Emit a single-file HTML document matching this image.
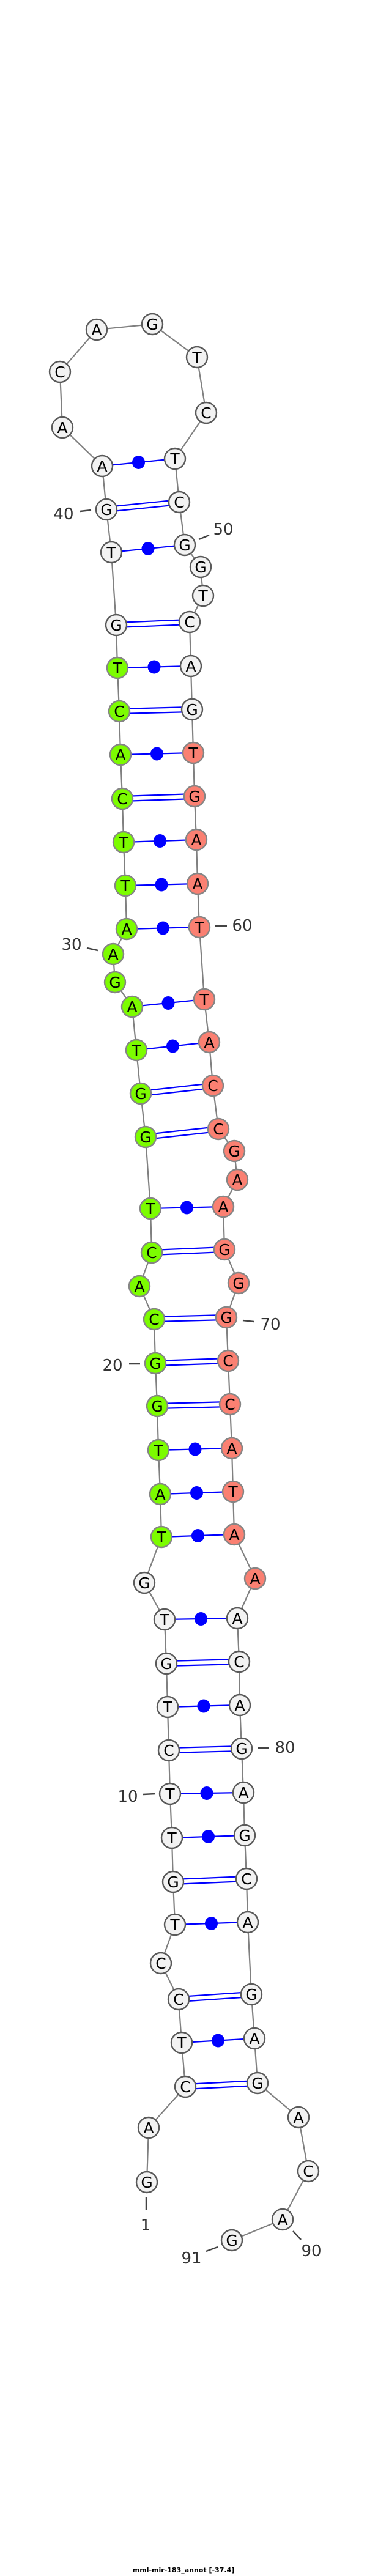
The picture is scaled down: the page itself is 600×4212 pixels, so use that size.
<!DOCTYPE html>
<html><head><meta charset="utf-8"><style>
html,body{margin:0;padding:0;background:#fff;}
svg{display:block;}
.bb{fill:none;stroke:#808080;stroke-width:2.2;}
.p{stroke:#0000ff;stroke-width:2.2;}
.dot{fill:#0000ff;}
circle.w{fill:#f2f2f2;stroke:#5a5a5a;stroke-width:2.4;}
circle.g{fill:#7cfc00;stroke:#858585;stroke-width:2.4;}
circle.r{fill:#fa8072;stroke:#858585;stroke-width:2.4;}
text.n{font-family:"DejaVu Sans","Liberation Sans",sans-serif;font-size:25px;text-anchor:middle;fill:#000;}
text.l{font-family:"DejaVu Sans","Liberation Sans",sans-serif;font-size:26px;text-anchor:middle;fill:#333;}
.t{stroke:#444;stroke-width:2.5;}
</style></head><body>
<svg width="600" height="4212" viewBox="0 0 600 4212" xmlns="http://www.w3.org/2000/svg">
<polyline class="bb" points="240,3568 243,3479 303,3412 297,3340 292,3269 263,3210 286,3147 283,3077 281,3005 278,2933 276,2862 274,2791 272,2720 269,2648 236,2588 264,2513 262,2443 259,2371 257,2299 254,2229 252,2157 228,2103 248,2048 246,1976 238,1859 230,1788 223,1717 216,1646 188,1606 185,1560 207,1519 205,1448 202,1377 200,1306 197,1234 195,1163 192,1092 190,1022 182,903 174,833 167,762 102,699 98,608 158,539 249,530 322,584 337,675 286,750 293,821 302,891 328,927 332,974 310,1017 312,1089 314,1160 316,1231 318,1302 321,1373 323,1445 326,1516 334,1634 342,1704 348,1775 357,1846 383,1882 388,1929 365,1973 367,2043 390,2098 370,2154 373,2225 376,2296 379,2368 381,2439 383,2509 417,2581 388,2646 391,2717 392,2788 395,2859 398,2931 400,3001 403,3072 405,3143 411,3261 416,3333 421,3406 488,3462 504,3550 462,3629 379,3663"/>
<g class="p">
<line x1="167" y1="762" x2="286" y2="750"/>
<line x1="182" y1="903" x2="302" y2="891"/>
<line x1="192" y1="1092" x2="312" y2="1089"/>
<line x1="197" y1="1234" x2="316" y2="1231"/>
<line x1="202" y1="1377" x2="321" y2="1373"/>
<line x1="205" y1="1448" x2="323" y2="1445"/>
<line x1="207" y1="1519" x2="326" y2="1516"/>
<line x1="216" y1="1646" x2="334" y2="1634"/>
<line x1="223" y1="1717" x2="342" y2="1704"/>
<line x1="246" y1="1976" x2="365" y2="1973"/>
<line x1="259" y1="2371" x2="379" y2="2368"/>
<line x1="262" y1="2443" x2="381" y2="2439"/>
<line x1="264" y1="2513" x2="383" y2="2509"/>
<line x1="269" y1="2648" x2="388" y2="2646"/>
<line x1="274" y1="2791" x2="392" y2="2788"/>
<line x1="278" y1="2933" x2="398" y2="2931"/>
<line x1="281" y1="3005" x2="400" y2="3001"/>
<line x1="286" y1="3147" x2="405" y2="3143"/>
<line x1="297" y1="3340" x2="416" y2="3333"/>
<line x1="174" y1="829" x2="293" y2="817"/><line x1="174" y1="837" x2="293" y2="825"/>
<line x1="190" y1="1018" x2="310" y2="1013"/><line x1="190" y1="1026" x2="310" y2="1021"/>
<line x1="195" y1="1159" x2="314" y2="1156"/><line x1="195" y1="1167" x2="314" y2="1164"/>
<line x1="200" y1="1302" x2="318" y2="1298"/><line x1="200" y1="1310" x2="318" y2="1306"/>
<line x1="230" y1="1784" x2="348" y2="1771"/><line x1="230" y1="1792" x2="348" y2="1779"/>
<line x1="238" y1="1855" x2="357" y2="1842"/><line x1="238" y1="1863" x2="357" y2="1850"/>
<line x1="248" y1="2044" x2="367" y2="2039"/><line x1="248" y1="2052" x2="367" y2="2047"/>
<line x1="252" y1="2153" x2="370" y2="2150"/><line x1="252" y1="2161" x2="370" y2="2158"/>
<line x1="254" y1="2225" x2="373" y2="2221"/><line x1="254" y1="2233" x2="373" y2="2229"/>
<line x1="257" y1="2295" x2="376" y2="2292"/><line x1="257" y1="2303" x2="376" y2="2300"/>
<line x1="272" y1="2716" x2="391" y2="2713"/><line x1="272" y1="2724" x2="391" y2="2721"/>
<line x1="276" y1="2858" x2="395" y2="2855"/><line x1="276" y1="2866" x2="395" y2="2863"/>
<line x1="283" y1="3073" x2="403" y2="3068"/><line x1="283" y1="3081" x2="403" y2="3076"/>
<line x1="292" y1="3265" x2="411" y2="3257"/><line x1="292" y1="3273" x2="411" y2="3265"/>
<line x1="303" y1="3408" x2="421" y2="3402"/><line x1="303" y1="3416" x2="421" y2="3410"/>
</g>
<g class="dot">
<ellipse cx="226.5" cy="756" rx="10.5" ry="11"/>
<ellipse cx="242" cy="897" rx="10.5" ry="11"/>
<ellipse cx="252" cy="1090.5" rx="10.5" ry="11"/>
<ellipse cx="256.5" cy="1232.5" rx="10.5" ry="11"/>
<ellipse cx="261.5" cy="1375" rx="10.5" ry="11"/>
<ellipse cx="264" cy="1446.5" rx="10.5" ry="11"/>
<ellipse cx="266.5" cy="1517.5" rx="10.5" ry="11"/>
<ellipse cx="275" cy="1640" rx="10.5" ry="11"/>
<ellipse cx="282.5" cy="1710.5" rx="10.5" ry="11"/>
<ellipse cx="305.5" cy="1974.5" rx="10.5" ry="11"/>
<ellipse cx="319" cy="2369.5" rx="10.5" ry="11"/>
<ellipse cx="321.5" cy="2441" rx="10.5" ry="11"/>
<ellipse cx="323.5" cy="2511" rx="10.5" ry="11"/>
<ellipse cx="328.5" cy="2647" rx="10.5" ry="11"/>
<ellipse cx="333" cy="2789.5" rx="10.5" ry="11"/>
<ellipse cx="338" cy="2932" rx="10.5" ry="11"/>
<ellipse cx="340.5" cy="3003" rx="10.5" ry="11"/>
<ellipse cx="345.5" cy="3145" rx="10.5" ry="11"/>
<ellipse cx="356.5" cy="3336.5" rx="10.5" ry="11"/>
</g>
<g>
<circle class="w" cx="240" cy="3568" r="17"/><text class="n" x="240" y="3577">G</text>
<circle class="w" cx="243" cy="3479" r="17"/><text class="n" x="243" y="3488">A</text>
<circle class="w" cx="303" cy="3412" r="17"/><text class="n" x="303" y="3421">C</text>
<circle class="w" cx="297" cy="3340" r="17"/><text class="n" x="297" y="3349">T</text>
<circle class="w" cx="292" cy="3269" r="17"/><text class="n" x="292" y="3278">C</text>
<circle class="w" cx="263" cy="3210" r="17"/><text class="n" x="263" y="3219">C</text>
<circle class="w" cx="286" cy="3147" r="17"/><text class="n" x="286" y="3156">T</text>
<circle class="w" cx="283" cy="3077" r="17"/><text class="n" x="283" y="3086">G</text>
<circle class="w" cx="281" cy="3005" r="17"/><text class="n" x="281" y="3014">T</text>
<circle class="w" cx="278" cy="2933" r="17"/><text class="n" x="278" y="2942">T</text>
<circle class="w" cx="276" cy="2862" r="17"/><text class="n" x="276" y="2871">C</text>
<circle class="w" cx="274" cy="2791" r="17"/><text class="n" x="274" y="2800">T</text>
<circle class="w" cx="272" cy="2720" r="17"/><text class="n" x="272" y="2729">G</text>
<circle class="w" cx="269" cy="2648" r="17"/><text class="n" x="269" y="2657">T</text>
<circle class="w" cx="236" cy="2588" r="17"/><text class="n" x="236" y="2597">G</text>
<circle class="g" cx="264" cy="2513" r="17"/><text class="n" x="264" y="2522">T</text>
<circle class="g" cx="262" cy="2443" r="17"/><text class="n" x="262" y="2452">A</text>
<circle class="g" cx="259" cy="2371" r="17"/><text class="n" x="259" y="2380">T</text>
<circle class="g" cx="257" cy="2299" r="17"/><text class="n" x="257" y="2308">G</text>
<circle class="g" cx="254" cy="2229" r="17"/><text class="n" x="254" y="2238">G</text>
<circle class="g" cx="252" cy="2157" r="17"/><text class="n" x="252" y="2166">C</text>
<circle class="g" cx="228" cy="2103" r="17"/><text class="n" x="228" y="2112">A</text>
<circle class="g" cx="248" cy="2048" r="17"/><text class="n" x="248" y="2057">C</text>
<circle class="g" cx="246" cy="1976" r="17"/><text class="n" x="246" y="1985">T</text>
<circle class="g" cx="238" cy="1859" r="17"/><text class="n" x="238" y="1868">G</text>
<circle class="g" cx="230" cy="1788" r="17"/><text class="n" x="230" y="1797">G</text>
<circle class="g" cx="223" cy="1717" r="17"/><text class="n" x="223" y="1726">T</text>
<circle class="g" cx="216" cy="1646" r="17"/><text class="n" x="216" y="1655">A</text>
<circle class="g" cx="188" cy="1606" r="17"/><text class="n" x="188" y="1615">G</text>
<circle class="g" cx="185" cy="1560" r="17"/><text class="n" x="185" y="1569">A</text>
<circle class="g" cx="207" cy="1519" r="17"/><text class="n" x="207" y="1528">A</text>
<circle class="g" cx="205" cy="1448" r="17"/><text class="n" x="205" y="1457">T</text>
<circle class="g" cx="202" cy="1377" r="17"/><text class="n" x="202" y="1386">T</text>
<circle class="g" cx="200" cy="1306" r="17"/><text class="n" x="200" y="1315">C</text>
<circle class="g" cx="197" cy="1234" r="17"/><text class="n" x="197" y="1243">A</text>
<circle class="g" cx="195" cy="1163" r="17"/><text class="n" x="195" y="1172">C</text>
<circle class="g" cx="192" cy="1092" r="17"/><text class="n" x="192" y="1101">T</text>
<circle class="w" cx="190" cy="1022" r="17"/><text class="n" x="190" y="1031">G</text>
<circle class="w" cx="182" cy="903" r="17"/><text class="n" x="182" y="912">T</text>
<circle class="w" cx="174" cy="833" r="17"/><text class="n" x="174" y="842">G</text>
<circle class="w" cx="167" cy="762" r="17"/><text class="n" x="167" y="771">A</text>
<circle class="w" cx="102" cy="699" r="17"/><text class="n" x="102" y="708">A</text>
<circle class="w" cx="98" cy="608" r="17"/><text class="n" x="98" y="617">C</text>
<circle class="w" cx="158" cy="539" r="17"/><text class="n" x="158" y="548">A</text>
<circle class="w" cx="249" cy="530" r="17"/><text class="n" x="249" y="539">G</text>
<circle class="w" cx="322" cy="584" r="17"/><text class="n" x="322" y="593">T</text>
<circle class="w" cx="337" cy="675" r="17"/><text class="n" x="337" y="684">C</text>
<circle class="w" cx="286" cy="750" r="17"/><text class="n" x="286" y="759">T</text>
<circle class="w" cx="293" cy="821" r="17"/><text class="n" x="293" y="830">C</text>
<circle class="w" cx="302" cy="891" r="17"/><text class="n" x="302" y="900">G</text>
<circle class="w" cx="328" cy="927" r="17"/><text class="n" x="328" y="936">G</text>
<circle class="w" cx="332" cy="974" r="17"/><text class="n" x="332" y="983">T</text>
<circle class="w" cx="310" cy="1017" r="17"/><text class="n" x="310" y="1026">C</text>
<circle class="w" cx="312" cy="1089" r="17"/><text class="n" x="312" y="1098">A</text>
<circle class="w" cx="314" cy="1160" r="17"/><text class="n" x="314" y="1169">G</text>
<circle class="r" cx="316" cy="1231" r="17"/><text class="n" x="316" y="1240">T</text>
<circle class="r" cx="318" cy="1302" r="17"/><text class="n" x="318" y="1311">G</text>
<circle class="r" cx="321" cy="1373" r="17"/><text class="n" x="321" y="1382">A</text>
<circle class="r" cx="323" cy="1445" r="17"/><text class="n" x="323" y="1454">A</text>
<circle class="r" cx="326" cy="1516" r="17"/><text class="n" x="326" y="1525">T</text>
<circle class="r" cx="334" cy="1634" r="17"/><text class="n" x="334" y="1643">T</text>
<circle class="r" cx="342" cy="1704" r="17"/><text class="n" x="342" y="1713">A</text>
<circle class="r" cx="348" cy="1775" r="17"/><text class="n" x="348" y="1784">C</text>
<circle class="r" cx="357" cy="1846" r="17"/><text class="n" x="357" y="1855">C</text>
<circle class="r" cx="383" cy="1882" r="17"/><text class="n" x="383" y="1891">G</text>
<circle class="r" cx="388" cy="1929" r="17"/><text class="n" x="388" y="1938">A</text>
<circle class="r" cx="365" cy="1973" r="17"/><text class="n" x="365" y="1982">A</text>
<circle class="r" cx="367" cy="2043" r="17"/><text class="n" x="367" y="2052">G</text>
<circle class="r" cx="390" cy="2098" r="17"/><text class="n" x="390" y="2107">G</text>
<circle class="r" cx="370" cy="2154" r="17"/><text class="n" x="370" y="2163">G</text>
<circle class="r" cx="373" cy="2225" r="17"/><text class="n" x="373" y="2234">C</text>
<circle class="r" cx="376" cy="2296" r="17"/><text class="n" x="376" y="2305">C</text>
<circle class="r" cx="379" cy="2368" r="17"/><text class="n" x="379" y="2377">A</text>
<circle class="r" cx="381" cy="2439" r="17"/><text class="n" x="381" y="2448">T</text>
<circle class="r" cx="383" cy="2509" r="17"/><text class="n" x="383" y="2518">A</text>
<circle class="r" cx="417" cy="2581" r="17"/><text class="n" x="417" y="2590">A</text>
<circle class="w" cx="388" cy="2646" r="17"/><text class="n" x="388" y="2655">A</text>
<circle class="w" cx="391" cy="2717" r="17"/><text class="n" x="391" y="2726">C</text>
<circle class="w" cx="392" cy="2788" r="17"/><text class="n" x="392" y="2797">A</text>
<circle class="w" cx="395" cy="2859" r="17"/><text class="n" x="395" y="2868">G</text>
<circle class="w" cx="398" cy="2931" r="17"/><text class="n" x="398" y="2940">A</text>
<circle class="w" cx="400" cy="3001" r="17"/><text class="n" x="400" y="3010">G</text>
<circle class="w" cx="403" cy="3072" r="17"/><text class="n" x="403" y="3081">C</text>
<circle class="w" cx="405" cy="3143" r="17"/><text class="n" x="405" y="3152">A</text>
<circle class="w" cx="411" cy="3261" r="17"/><text class="n" x="411" y="3270">G</text>
<circle class="w" cx="416" cy="3333" r="17"/><text class="n" x="416" y="3342">A</text>
<circle class="w" cx="421" cy="3406" r="17"/><text class="n" x="421" y="3415">G</text>
<circle class="w" cx="488" cy="3462" r="17"/><text class="n" x="488" y="3471">A</text>
<circle class="w" cx="504" cy="3550" r="17"/><text class="n" x="504" y="3559">C</text>
<circle class="w" cx="462" cy="3629" r="17"/><text class="n" x="462" y="3638">A</text>
<circle class="w" cx="379" cy="3663" r="17"/><text class="n" x="379" y="3672">G</text>
</g>
<g class="t">
<line x1="131" y1="836" x2="149" y2="834"/>
<line x1="325" y1="882" x2="342" y2="875"/>
<line x1="352" y1="1514" x2="371" y2="1514"/>
<line x1="142" y1="1550" x2="160" y2="1554"/>
<line x1="397" y1="2159" x2="415" y2="2161"/>
<line x1="211" y1="2230" x2="229" y2="2230"/>
<line x1="421" y1="2858" x2="439" y2="2858"/>
<line x1="234" y1="2934" x2="254" y2="2933"/>
<line x1="239" y1="3593" x2="239" y2="3613"/>
<line x1="479" y1="3648" x2="492" y2="3662"/>
<line x1="337" y1="3681" x2="356" y2="3674"/>
</g>
<text class="l" x="104" y="849">40</text>
<text class="l" x="365" y="874">50</text>
<text class="l" x="396" y="1522">60</text>
<text class="l" x="117" y="1553">30</text>
<text class="l" x="442" y="2174">70</text>
<text class="l" x="184" y="2241">20</text>
<text class="l" x="466" y="2866">80</text>
<text class="l" x="209" y="2946">10</text>
<text class="l" x="238" y="3647">1</text>
<text class="l" x="509" y="3689">90</text>
<text class="l" x="313" y="3701">91</text>
<text x="300" y="4206" style="font-family:'DejaVu Sans','Liberation Sans',sans-serif;font-size:11px;font-weight:bold;text-anchor:middle;fill:#000;">mml-mir-183_annot [-37.4]</text>
</svg>
</body></html>
